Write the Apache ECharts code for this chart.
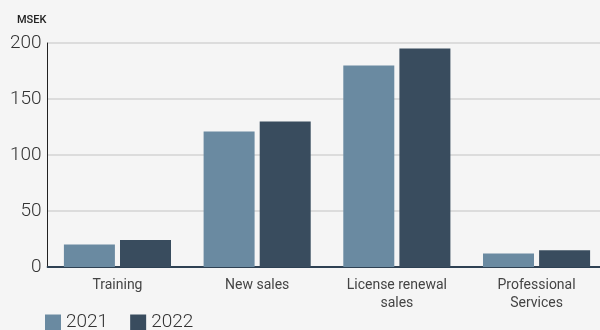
<!DOCTYPE html>
<html><head><meta charset="utf-8">
<script src="https://cdn.jsdelivr.net/npm/echarts@6/dist/echarts.min.js"></script>
<style>html,body{margin:0;padding:0;background:#f5f5f5}#c{width:600px;height:330px}</style>
</head><body><div id="c"></div>
<script>
const categories = ["Training", "New sales", "License renewal\nsales", "Professional\nServices"];
const values2021 = [20, 121, 180, 12];
const values2022 = [24, 130, 195, 15];
const yTicks = [0, 50, 100, 150, 200];
const seriesNames = ["2021", "2022"];

const chart = echarts.init(document.getElementById('c'));
chart.setOption({
  backgroundColor: '#f5f5f5',
  animation: false,
  grid: {left: 47.6, width: 558.8, top: 43, height: 224, containLabel: false, outerBoundsMode: 'none'},
  title: {text: 'MSEK', left: 12, top: 10, textStyle: {fontSize: 11, fontWeight: 500, color: '#222', fontFamily: 'Roboto'}},
  legend: {
    data: seriesNames, left: 40, bottom: -7, itemWidth: 16, itemHeight: 16, itemGap: 22,
    icon: 'rect',
    textStyle: {fontSize: 19, color: '#333', fontFamily: 'Roboto', fontWeight: 300}
  },
  xAxis: {
    type: 'category', data: categories,
    axisLine: {lineStyle: {color: '#2e4153', width: 2}},
    axisTick: {show: false},
    axisLabel: {fontSize: 14, color: '#444', fontFamily: 'Roboto', margin: 9, lineHeight: 18, interval: 0}
  },
  yAxis: {
    type: 'value', min: 0, max: 200, interval: 50,
    axisLine: {show: true, lineStyle: {color: '#222', width: 1}},
    axisTick: {show: false},
    splitLine: {lineStyle: {color: '#dcdcdc', width: 2}},
    axisLabel: {fontSize: 19, color: '#333', fontFamily: 'Roboto', fontWeight: 300, margin: 6,
      formatter: v => yTicks.includes(v) ? String(v) : ''}
  },
  series: [
    {name: seriesNames[0], type: 'bar', data: values2021, barWidth: 51, barGap: '10%', itemStyle: {color: '#6a8aa1'}},
    {name: seriesNames[1], type: 'bar', data: values2022, barWidth: 51, barGap: '10%', itemStyle: {color: '#394c5e'}}
  ]
});
</script></body></html>
